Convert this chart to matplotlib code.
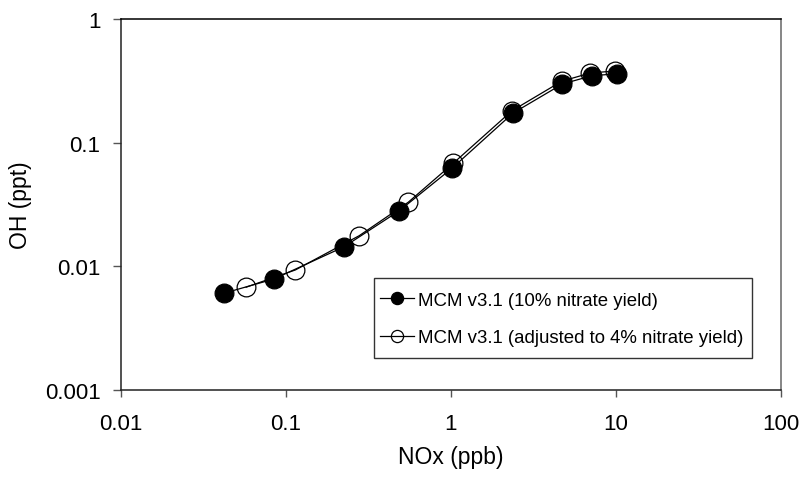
import matplotlib
matplotlib.use("Agg")
import matplotlib.pyplot as plt
from matplotlib.patches import Rectangle

# ---- data ----
nox_10 = [0.042, 0.0845, 0.225, 0.487, 1.02, 2.37, 4.73, 7.15, 10.1]
oh_10 = [0.00606, 0.0079, 0.0144, 0.0282, 0.0625, 0.173, 0.298, 0.348, 0.36]
nox_4 = [0.0573, 0.114, 0.278, 0.551, 1.03, 2.34, 4.69, 7.0, 9.9]
oh_4 = [0.00678, 0.00935, 0.0177, 0.033, 0.068, 0.181, 0.314, 0.366, 0.38]

label_10 = "MCM v3.1 (10% nitrate yield)"
label_4 = "MCM v3.1 (adjusted to 4% nitrate yield)"

xticks = [0.01, 0.1, 1, 10, 100]
xtick_labels = ["0.01", "0.1", "1", "10", "100"]
yticks = [0.001, 0.01, 0.1, 1]
ytick_labels = ["0.001", "0.01", "0.1", "1"]

plt.rcParams['font.family'] = ['Liberation Sans', 'DejaVu Sans']

W, H = 806, 481
fig = plt.figure(figsize=(W/100, H/100), dpi=100)
L, R, T, B = 121, 781, 20, 391
ax = fig.add_axes([L/W, 1-B/H, (R-L)/W, (B-T)/H])

def ax_x(px):
    return (px - L) / (R - L)

def ax_y(py):
    return (B - py) / (B - T)

ax.set_xscale('log')
ax.set_yscale('log')
ax.set_xlim(0.01, 100)
ax.set_ylim(0.001, 1)

ms = 13.5
h4, = ax.plot(nox_4, oh_4, '-', color='black', lw=0.9, marker='o', ms=ms,
              mfc='none', mec='black', mew=0.9, zorder=2, label=label_4)
h10, = ax.plot(nox_10, oh_10, '-', color='black', lw=0.9, marker='o', ms=ms,
               mfc='black', mec='black', mew=0.9, zorder=3, label=label_10)

ax.set_xticks(xticks)
ax.set_xticklabels(xtick_labels)
ax.set_yticks(yticks)
ax.set_yticklabels(ytick_labels)
ax.minorticks_off()
ax.tick_params(axis='x', direction='out', length=5, width=1, color='#555555',
               labelsize=16, pad=11.5)
ax.tick_params(axis='y', direction='out', length=5.8, width=1, color='#555555',
               labelsize=16, pad=9)

for side, col in [('left', '#222222'), ('bottom', '#222222'),
                  ('top', 'black'), ('right', '#666666')]:
    ax.spines[side].set_color(col)
    ax.spines[side].set_linewidth(1.1)

ax.set_xlabel("NOx (ppb)", fontsize=16.5, labelpad=8)
ax.set_ylabel("OH (ppt)", fontsize=16.5, labelpad=9)

# legend frame drawn as a rectangle, legend entries without frame
frame = Rectangle((ax_x(374), ax_y(359)), ax_x(752) - ax_x(374),
                  ax_y(279) - ax_y(359), transform=ax.transAxes,
                  facecolor='white', edgecolor='#333333', lw=1.0, zorder=5)
ax.add_patch(frame)

leg = ax.legend(handles=[h10, h4], loc='center left',
                bbox_to_anchor=(ax_x(380), ax_y(320)),
                borderaxespad=0, borderpad=0, fontsize=13.4, markerscale=0.65,
                handlelength=1.85, handletextpad=0.2, labelspacing=1.1,
                frameon=False)
leg.set_zorder(6)

fig.savefig("out.png", dpi=100)
